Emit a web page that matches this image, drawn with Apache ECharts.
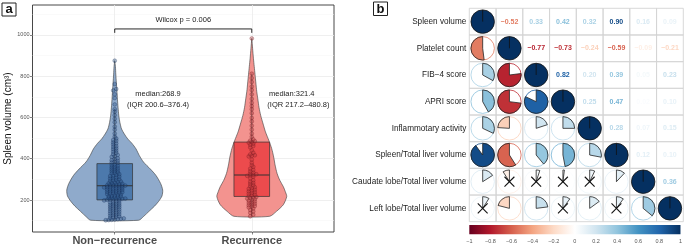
<!DOCTYPE html>
<html>
<head>
<meta charset="utf-8">
<script src="https://cdn.jsdelivr.net/npm/echarts@6/dist/echarts.min.js"></script>
<style>
  html, body { margin: 0; padding: 0; background: #fff; }
  #chart { width: 685px; height: 246px; }
</style>
</head>
<body>
<div id="chart"></div>
<script>
// ---- panel a data ----
const groups = ['Non\u2212recurrence', 'Recurrence'];

const nonRecVolumes = [
  875, 762, 738, 731, 712, 694, 663, 640, 628, 611, 594, 577, 556, 541, 522, 507,
  498, 491, 487, 479, 474, 469, 461, 457, 450, 446, 439, 434, 429, 422, 418, 412, 409, 402, 398, 393, 390, 386, 382, 379,
  372, 370, 366, 361, 359, 354, 351, 349, 344, 341, 339, 334, 331, 329, 325, 322, 318, 316, 313, 309,
  306, 304, 300, 298, 295, 292, 290, 288, 285, 283, 281, 279, 277, 276, 274, 273, 271, 270, 269, 268,
  267, 266, 264, 262, 261, 259, 257, 256, 254, 252, 250, 249, 247, 245, 244, 242, 240, 238, 236, 235,
  233, 231, 229, 227, 225, 223, 221, 219, 217, 215, 213, 211, 209, 207, 206, 205, 204, 203, 202, 201,
  198, 196, 193, 190, 188, 185, 182, 180, 177, 175, 172, 170, 167, 165, 162, 159, 157, 154, 151, 149,
  146, 143, 140, 138, 135, 132, 129, 127, 124, 121, 119, 116, 113, 111, 109, 107, 105, 104, 103, 102
];
const recVolumes = [
  983, 812, 791, 772, 750, 733, 712, 690, 671, 655, 640, 621, 598, 581, 560, 541, 522, 506, 494, 488, 485, 482,
  478, 473, 468, 462, 455, 441, 429, 421, 417, 414, 411, 396, 381, 369, 361, 352, 346, 339, 333, 328, 325, 322,
  320, 317, 313, 305, 296, 289, 283, 278, 272, 267, 262, 258, 254, 250, 246, 242, 238, 234, 230, 226, 222, 218,
  215, 213, 210, 207, 204, 201, 197, 193, 189, 186, 182, 179, 175, 171, 168, 164, 159, 152, 145, 138, 129, 121
];

// q1, median, q3 and whisker ends
const nonRecBox = [200.6, 268.9, 376.4];
const recBox = [217.2, 321.4, 480.8];
const nonRecWhisker = [102, 640];
const recWhisker = [121, 812];

// violin outline: [volume, half width in group units]
const nonRecViolin = [
  [102, 0.175], [120, 0.21], [145, 0.25], [170, 0.29], [193, 0.32], [220, 0.345], [248, 0.35],
  [280, 0.335], [320, 0.30], [350, 0.26], [384, 0.21], [415, 0.18], [448, 0.155], [475, 0.125],
  [496, 0.095], [520, 0.07], [544, 0.05], [575, 0.038], [608, 0.03], [650, 0.024], [688, 0.02],
  [730, 0.016], [768, 0.012], [810, 0.008], [847, 0.005], [875, 0.0]
];
const recViolin = [
  [121, 0.13], [145, 0.18], [177, 0.23], [217, 0.255], [240, 0.245], [265, 0.23], [295, 0.205],
  [328, 0.185], [370, 0.17], [408, 0.16], [450, 0.145], [488, 0.125], [530, 0.10], [568, 0.083],
  [610, 0.065], [648, 0.053], [690, 0.044], [727, 0.036], [767, 0.03], [807, 0.024], [847, 0.018],
  [887, 0.012], [935, 0.006], [983, 0.0]
];

const yMajorTicks = [200, 400, 600, 800, 1000];
const yMinorTicks = [100, 300, 500, 700, 900, 1100];
const medianNotes = [
  ['median:268.9', '(IQR 200.6\u2013376.4)'],
  ['median:321.4', '(IQR 217.2\u2013480.8)']
];
const pLabel = 'Wilcox p = 0.006';

// ---- panel b data ----
const corrLabels = [
  'Spleen volume', 'Platelet count', 'FIB\u22124 score', 'APRI score', 'Inflammotary activity',
  'Spleen/Total liver volume', 'Caudate lobe/Total liver volume', 'Left lobe/Total liver volume'
];
const corrMatrix = [
  [1, -0.52, 0.33, 0.42, 0.32, 0.90, 0.16, 0.09],
  [-0.52, 1, -0.77, -0.73, -0.24, -0.59, -0.09, -0.21],
  [0.33, -0.77, 1, 0.82, 0.20, 0.39, 0.05, 0.23],
  [0.42, -0.73, 0.82, 1, 0.25, 0.47, 0.02, 0.10],
  [0.32, -0.24, 0.20, 0.25, 1, 0.28, 0.07, 0.15],
  [0.90, -0.59, 0.39, 0.47, 0.28, 1, 0.12, 0.10],
  [0.16, -0.09, 0.05, 0.02, 0.07, 0.12, 1, 0.36],
  [0.09, -0.21, 0.23, 0.10, 0.15, 0.10, 0.36, 1]
];
// [row, col] of non-significant pairs (crossed)
const insignificant = [[6, 1], [6, 2], [6, 3], [6, 4], [7, 0], [7, 3], [7, 5]];

const rdbu = ['#67001F', '#B2182B', '#D6604D', '#F4A582', '#FDDBC7', '#FFFFFF',
  '#D1E5F0', '#92C5DE', '#4393C3', '#2166AC', '#053061'];

const FONT = '"Liberation Sans", Arial, sans-serif';

function hexRgb(h) {
  return [parseInt(h.slice(1, 3), 16), parseInt(h.slice(3, 5), 16), parseInt(h.slice(5, 7), 16)];
}
function corrColor(v) {
  const t = Math.max(0, Math.min(1, (v + 1) / 2)) * (rdbu.length - 1);
  const i = Math.min(rdbu.length - 2, Math.floor(t));
  const f = t - i;
  const a = hexRgb(rdbu[i]), b = hexRgb(rdbu[i + 1]);
  const c = a.map((x, k) => Math.round(x + (b[k] - x) * f));
  return 'rgb(' + c.join(',') + ')';
}
function fmtCorr(v) {
  return (v < 0 ? '\u2212' : '') + Math.abs(v).toFixed(2);
}

// centred dot stacking (like a dotplot) around the group position
function stackDots(values, center, binWidth, step) {
  const sorted = values.slice().sort((a, b) => a - b);
  const out = [];
  let i = 0;
  while (i < sorted.length) {
    let j = i;
    while (j < sorted.length && sorted[j] - sorted[i] < binWidth) j++;
    const n = j - i;
    for (let k = 0; k < n; k++) out.push([center + (k - (n - 1) / 2) * step, sorted[i + k]]);
    i = j;
  }
  return out;
}

const violinStyle = [
  { violin: '#8FAACB', box: '#4C79AC' },
  { violin: '#F3938F', box: '#EC4B4D' }
];
const violinData = [
  { profile: nonRecViolin, box: nonRecBox, whisker: nonRecWhisker },
  { profile: recViolin, box: recBox, whisker: recWhisker }
];

function renderViolin(params, api) {
  const g = params.dataIndex;
  const d = violinData[g];
  const cx = g + 1;
  const right = d.profile.map(p => api.coord([cx + p[1], p[0]]));
  const left = d.profile.slice().reverse().map(p => api.coord([cx - p[1], p[0]]));
  const bw = 0.13;
  const p1 = api.coord([cx - bw, d.box[2]]);
  const p2 = api.coord([cx + bw, d.box[0]]);
  const med = api.coord([cx, d.box[1]]);
  const wLo = api.coord([cx, d.whisker[0]]);
  const wHi = api.coord([cx, d.whisker[1]]);
  const q1 = api.coord([cx, d.box[0]]);
  const q3 = api.coord([cx, d.box[2]]);
  return {
    type: 'group',
    children: [
      { type: 'polygon', shape: { points: right.concat(left), smooth: 0.25 },
        style: { fill: violinStyle[g].violin, stroke: '#3a3a3a', lineWidth: 0.6 } },
      { type: 'line', shape: { x1: wHi[0], y1: wHi[1], x2: q3[0], y2: q3[1] }, style: { stroke: '#333', lineWidth: 0.6 } },
      { type: 'line', shape: { x1: wLo[0], y1: wLo[1], x2: q1[0], y2: q1[1] }, style: { stroke: '#333', lineWidth: 0.6 } },
      { type: 'rect', shape: { x: p1[0], y: p1[1], width: p2[0] - p1[0], height: p2[1] - p1[1] },
        style: { fill: violinStyle[g].box, stroke: '#333', lineWidth: 0.7 } },
      { type: 'line', shape: { x1: p1[0], y1: med[1], x2: p2[0], y2: med[1] }, style: { stroke: '#333', lineWidth: 1.1 } }
    ]
  };
}

function renderNotes(params, api) {
  const b1 = api.coord([1, 1029]), b2 = api.coord([2, 1029]);
  const t1 = api.coord([1, 1010]), t2 = api.coord([2, 1010]);
  const txt = (pos, text, size) => ({
    type: 'text',
    style: { x: pos[0], y: pos[1], text: text, fill: '#222', font: size + 'px ' + FONT,
      align: 'center', verticalAlign: 'middle' }
  });
  return {
    type: 'group',
    children: [
      { type: 'polyline', shape: { points: [t1, b1, b2, t2] }, style: { stroke: '#111', lineWidth: 0.9, fill: null } },
      txt(api.coord([1.5, 1071]), pLabel, 7.5),
      txt(api.coord([1.316, 716]), medianNotes[0][0], 7.5),
      txt(api.coord([1.316, 662]), medianNotes[0][1], 7.5),
      txt(api.coord([2.292, 716]), medianNotes[1][0], 7.5),
      txt(api.coord([2.34, 662]), medianNotes[1][1], 7.5)
    ]
  };
}

const corrData = [];
corrMatrix.forEach((rowVals, i) => {
  rowVals.forEach((v, j) => {
    const ns = insignificant.some(p => p[0] === i && p[1] === j) ? 1 : 0;
    corrData.push([j, i, v, ns]);
  });
});

function renderCorr(params, api) {
  const col = api.value(0), row = api.value(1), v = api.value(2), ns = api.value(3);
  const c = api.coord([col, row]);
  const s = api.size([1, 1]);
  const r = Math.min(s[0], s[1]) * 0.44;
  const color = corrColor(v);
  const kids = [{
    type: 'rect',
    shape: { x: c[0] - s[0] / 2, y: c[1] - s[1] / 2, width: s[0], height: s[1] },
    style: { fill: 'none', stroke: '#D4D4D4', lineWidth: 0.9 }
  }];
  if (row === col) {
    kids.push({ type: 'circle', shape: { cx: c[0], cy: c[1], r: r }, style: { fill: color, stroke: '#111', lineWidth: 0.8 } });
    kids.push({ type: 'line', shape: { x1: c[0], y1: c[1], x2: c[0], y2: c[1] - r }, style: { stroke: '#111', lineWidth: 0.8 } });
  } else if (row > col) {
    kids.push({ type: 'circle', shape: { cx: c[0], cy: c[1], r: r }, style: { fill: 'none', stroke: color, lineWidth: 0.8 } });
    const start = -Math.PI / 2;
    kids.push({
      type: 'sector',
      shape: { cx: c[0], cy: c[1], r: r, r0: 0, startAngle: start, endAngle: start + 2 * Math.PI * v, clockwise: v >= 0 },
      style: { fill: color, stroke: '#222', lineWidth: 0.8 }
    });
    if (ns) {
      const h = r * 0.42;
      kids.push({ type: 'line', shape: { x1: c[0] - h, y1: c[1] - h, x2: c[0] + h, y2: c[1] + h }, style: { stroke: '#111', lineWidth: 1.1 } });
      kids.push({ type: 'line', shape: { x1: c[0] - h, y1: c[1] + h, x2: c[0] + h, y2: c[1] - h }, style: { stroke: '#111', lineWidth: 1.1 } });
    }
  } else {
    kids.push({
      type: 'text',
      style: { x: c[0], y: c[1], text: fmtCorr(v), fill: color, font: 'bold 7px ' + FONT,
        align: 'center', verticalAlign: 'middle' }
    });
  }
  return { type: 'group', children: kids };
}

function renderColorbar(params, api) {
  const a = api.coord([-1, 1]), b = api.coord([1, 0]);
  return {
    type: 'rect',
    shape: { x: a[0], y: a[1], width: b[0] - a[0], height: b[1] - a[1] },
    style: {
      fill: {
        type: 'linear', x: 0, y: 0, x2: 1, y2: 0,
        colorStops: rdbu.map((c, k) => ({ offset: k / (rdbu.length - 1), color: c }))
      }
    }
  };
}

const chart = echarts.init(document.getElementById('chart'), null, { renderer: 'canvas' });

const option = {
  animation: false,
  backgroundColor: '#fff',
  textStyle: { fontFamily: FONT },
  grid: [
    { left: 32.5, top: 5, width: 301.5, height: 229.5, show: true, borderColor: '#333', borderWidth: 0.9, backgroundColor: '#fff' },
    { left: 469.3, top: 8.3, width: 214, height: 213.4 },
    { left: 469.3, top: 225, width: 214.5, height: 9.3 }
  ],
  xAxis: [
    {
      gridIndex: 0, type: 'value', min: 0.4, max: 2.6,
      axisLine: { show: false },
      axisTick: { show: true, customValues: [1, 2], length: 2.5, lineStyle: { color: '#333', width: 0.6 } },
      axisLabel: {
        customValues: [1, 2], margin: 3, fontSize: 11, fontWeight: 'bold', color: '#4D4D4D',
        formatter: v => groups[Math.round(v) - 1]
      },
      splitLine: { show: true, lineStyle: { color: '#EBEBEB', width: 0.8 } }
    },
    { gridIndex: 1, type: 'category', data: corrLabels, show: false },
    {
      gridIndex: 2, type: 'value', min: -1, max: 1, interval: 0.2,
      axisLine: { show: false }, axisTick: { show: false }, splitLine: { show: false },
      axisLabel: {
        margin: 4, fontSize: 5.5, color: '#555', showMinLabel: true, showMaxLabel: true,
        formatter: v => { const r = Math.round(v * 10) / 10; return (r < 0 ? '\u2212' : '') + Math.abs(r); }
      }
    }
  ],
  yAxis: [
    {
      gridIndex: 0, type: 'value', min: 45, max: 1145,
      name: 'Spleen volume (cm\u00B3)', nameLocation: 'middle', nameGap: 18,
      nameTextStyle: { fontSize: 10, color: '#111' },
      axisLine: { show: false },
      axisTick: { show: true, customValues: yMajorTicks, length: 2.5, lineStyle: { color: '#333', width: 0.6 } },
      axisLabel: { customValues: yMajorTicks, margin: 3, fontSize: 5.5, color: '#555', formatter: v => String(v) },
      splitLine: { show: true, lineStyle: { color: '#EBEBEB', width: 0.8 } }
    },
    {
      gridIndex: 0, type: 'value', min: 45, max: 1145,
      axisLine: { show: false }, axisLabel: { show: false },
      axisTick: { show: false, customValues: yMinorTicks },
      splitLine: { show: true, lineStyle: { color: '#F4F4F4', width: 0.5 } }
    },
    {
      gridIndex: 1, type: 'category', data: corrLabels, inverse: true,
      axisLine: { show: false }, axisTick: { show: false },
      axisLabel: { margin: 3, fontSize: 8.2, color: '#222' }
    },
    { gridIndex: 2, type: 'value', min: 0, max: 1, show: false }
  ],
  series: [
    { type: 'custom', xAxisIndex: 0, yAxisIndex: 0, data: [[1, 200], [2, 200]], renderItem: renderViolin, z: 2, clip: false },
    {
      type: 'scatter', xAxisIndex: 0, yAxisIndex: 0, z: 3, symbolSize: 3.8,
      data: stackDots(nonRecVolumes, 1, 10, 0.022),
      itemStyle: { color: 'rgba(40,80,130,0.45)', borderColor: 'rgba(20,40,80,0.75)', borderWidth: 0.5 }
    },
    {
      type: 'scatter', xAxisIndex: 0, yAxisIndex: 0, z: 3, symbolSize: 3.8,
      data: stackDots(recVolumes, 2, 10, 0.022),
      itemStyle: { color: 'rgba(175,50,55,0.45)', borderColor: 'rgba(110,25,30,0.75)', borderWidth: 0.5 }
    },
    { type: 'custom', xAxisIndex: 0, yAxisIndex: 0, data: [[1.5, 1000]], renderItem: renderNotes, z: 4, clip: false },
    { type: 'custom', xAxisIndex: 1, yAxisIndex: 2, data: corrData, renderItem: renderCorr, clip: false },
    { type: 'custom', xAxisIndex: 2, yAxisIndex: 3, data: [[0, 0.5]], renderItem: renderColorbar, clip: false }
  ],
  graphic: [
    { type: 'rect', shape: { x: 2, y: 3, width: 14, height: 13 }, style: { fill: '#fff', stroke: '#222', lineWidth: 1 } },
    { type: 'text', x: 9, y: 9.5, style: { text: 'a', font: 'bold 13px ' + FONT, fill: '#111', align: 'center', verticalAlign: 'middle', textAlign: 'center', textVerticalAlign: 'middle' } },
    { type: 'rect', shape: { x: 373.5, y: 2, width: 14, height: 13.5 }, style: { fill: '#fff', stroke: '#222', lineWidth: 1 } },
    { type: 'text', x: 380.5, y: 9, style: { text: 'b', font: 'bold 13px ' + FONT, fill: '#111', align: 'center', verticalAlign: 'middle', textAlign: 'center', textVerticalAlign: 'middle' } }
  ]
};

chart.setOption(option);
</script>
</body>
</html>
